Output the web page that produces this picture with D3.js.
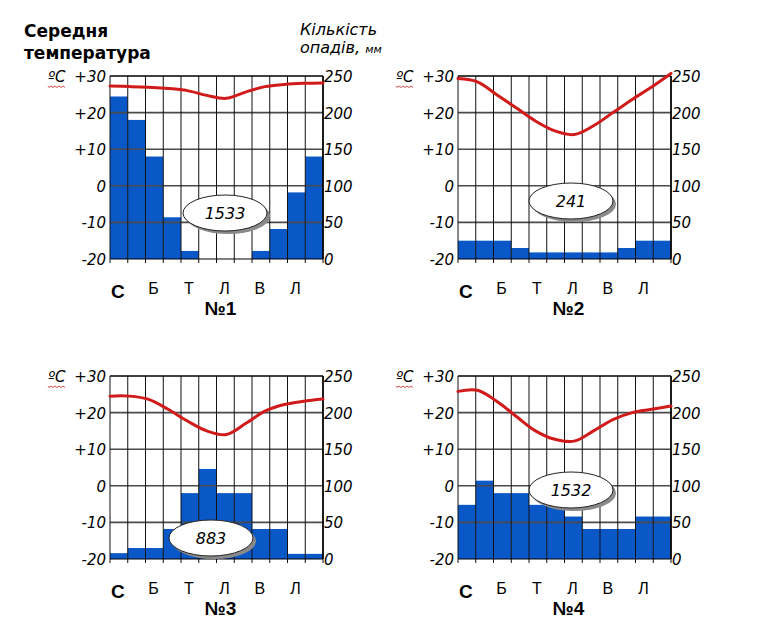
<!DOCTYPE html>
<html>
<head>
<meta charset="utf-8">
<script src="https://cdn.jsdelivr.net/npm/d3@7"></script>
<style>
	body { margin: 0; background: #fff; }
	svg { display: block; }
</style>
</head>
<body>
<div id="chart"></div>
<script>
// month letters under odd columns
var monthLabels = ['С', '', 'Б', '', 'Т', '', 'Л', '', 'В', '', 'Л', ''];
var tempTicks = [30, 20, 10, 0, -10, -20];
var tempTickLabels = ['+30', '+20', '+10', '0', '-10', '-20'];
var precipTicks = [250, 200, 150, 100, 50, 0];

var titles = ['№1', '№2', '№3', '№4'];
var totals = ['1533', '241', '883', '1532'];

var precip1 = [222, 190, 140, 57, 11, 0, 0, 0, 11, 41, 91, 140];
var precip2 = [25, 25, 25, 15, 9, 9, 9, 9, 9, 15, 25, 25];
var precip3 = [8, 15, 15, 41, 90, 123, 90, 90, 41, 41, 7, 7];
var precip4 = [74, 107, 90, 90, 74, 74, 58, 41, 41, 41, 58, 58];

var temp1 = [27.3, 27.1, 26.9, 26.6, 26.0, 24.7, 23.9, 25.6, 27.1, 27.7, 28.0, 28.1];
var temp2 = [29.3, 28.4, 24.9, 21.3, 17.7, 15.0, 14.0, 16.4, 20.0, 23.6, 27.0, 30.7];
var temp3 = [24.5, 24.5, 23.6, 20.9, 17.7, 15.0, 14.0, 17.0, 20.4, 22.2, 23.1, 23.7];
var temp4 = [25.8, 26.1, 23.1, 19.0, 15.0, 12.7, 12.2, 15.0, 18.1, 20.0, 20.9, 21.8];

var W = 780, H = 630;
var pw = 213, ph = 183;
var italic = 'DejaVu Sans';

var svg = d3.select('#chart').append('svg')
	.attr('width', W)
	.attr('height', H);

svg.append('rect').attr('width', W).attr('height', H).attr('fill', '#fff');

// header
svg.append('text').attr('x', 24).attr('y', 37)
	.attr('font-family', 'DejaVu Sans').attr('font-weight', 'bold').attr('font-size', 17)
	.text('Середня');
svg.append('text').attr('x', 24).attr('y', 59)
	.attr('font-family', 'DejaVu Sans').attr('font-weight', 'bold').attr('font-size', 17)
	.text('температура');
svg.append('text').attr('x', 300).attr('y', 35)
	.attr('font-family', italic).attr('font-style', 'italic').attr('font-size', 16)
	.text('Кількість');
var op = svg.append('text').attr('x', 300).attr('y', 53)
	.attr('font-family', italic).attr('font-style', 'italic').attr('font-size', 16);
op.append('tspan').text('опадів, ');
op.append('tspan').attr('font-size', 11).text('мм');

var monthIdx = d3.range(12);
var series = [
	{ x: 110, y: 76, precip: precip1, temp: temp1 },
	{ x: 458, y: 76, precip: precip2, temp: temp2 },
	{ x: 110, y: 376, precip: precip3, temp: temp3 },
	{ x: 458, y: 376, precip: precip4, temp: temp4 }
];

series.forEach(function (s, i) {
	drawPanel(s, i);
});

function drawPanel (s, i) {
	var g = svg.append('g').attr('transform', 'translate(' + s.x + ',' + s.y + ')');

	var xBand = d3.scaleBand().domain(monthIdx).range([0, pw]).padding(0);
	var xPt = d3.scalePoint().domain(monthIdx).range([0, pw]).padding(0);
	var yT = d3.scaleLinear().domain([-20, 30]).range([ph, 0]);
	var yP = d3.scaleLinear().domain([0, 250]).range([ph, 0]);

	// precipitation bars
	g.selectAll('rect.bar')
		.data(s.precip).enter()
		.append('rect')
		.attr('class', 'bar')
		.attr('x', function (d, j) { return xBand(j); })
		.attr('width', xBand.bandwidth())
		.attr('y', function (d) { return yP(d); })
		.attr('height', function (d) { return ph - yP(d); })
		.attr('fill', '#0a58c8');

	// horizontal grid
	g.selectAll('line.hg')
		.data(tempTicks.slice(1, 5)).enter()
		.append('line')
		.attr('x1', 0).attr('x2', pw)
		.attr('y1', function (d) { return yT(d); })
		.attr('y2', function (d) { return yT(d); })
		.attr('stroke', '#4a4a4a').attr('stroke-width', 1.6);

	// vertical grid with small ticks under the bottom
	g.selectAll('line.vg')
		.data(d3.range(13)).enter()
		.append('line')
		.attr('x1', function (d) { return d * xBand.step(); })
		.attr('x2', function (d) { return d * xBand.step(); })
		.attr('y1', 0).attr('y2', ph + 4)
		.attr('stroke', '#111').attr('stroke-width', 1);

	g.append('line').attr('x1', 0).attr('x2', pw).attr('y1', yT(30)).attr('y2', yT(30))
		.attr('stroke', '#000').attr('stroke-width', 1.4);
	g.append('line').attr('x1', 0).attr('x2', pw).attr('y1', ph).attr('y2', ph)
		.attr('stroke', '#000').attr('stroke-width', 1.2);
	g.append('line').attr('x1', pw).attr('x2', pw).attr('y1', 0).attr('y2', ph)
		.attr('stroke', '#000').attr('stroke-width', 1.6);

	// temperature line
	var line = d3.line()
		.x(function (d, j) { return xPt(j); })
		.y(function (d) { return yT(d); })
		.curve(d3.curveCatmullRom.alpha(0.5));
	g.append('path')
		.datum(s.temp)
		.attr('d', line)
		.attr('fill', 'none')
		.attr('stroke', '#d11a1a')
		.attr('stroke-width', 3)
		.attr('stroke-linecap', 'round');

	// left axis labels
	g.selectAll('text.lt')
		.data(tempTicks).enter()
		.append('text')
		.attr('x', -4)
		.attr('y', function (d) { return yT(d) + 6; })
		.attr('text-anchor', 'end')
		.attr('font-family', italic).attr('font-style', 'italic').attr('font-size', 15)
		.text(function (d, j) { return tempTickLabels[j]; });

	// right axis labels
	g.selectAll('text.rt')
		.data(precipTicks).enter()
		.append('text')
		.attr('x', pw + 1)
		.attr('y', function (d) { return yP(d) + 6; })
		.attr('font-family', italic).attr('font-style', 'italic').attr('font-size', 15)
		.text(function (d) { return d; });

	// ºC with the red squiggle
	g.append('text').attr('x', -62).attr('y', 6)
		.attr('font-family', italic).attr('font-style', 'italic').attr('font-size', 15)
		.text('ºC');
	var sq = d3.path();
	sq.moveTo(-62, 10);
	for (var k = 0; k < 9; k++) {
		sq.lineTo(-62 + k * 2 + 1, k % 2 ? 10 : 11.5);
	}
	g.append('path').attr('d', sq.toString())
		.attr('fill', 'none').attr('stroke', '#d02020').attr('stroke-width', 0.8);

	// month letters
	g.selectAll('text.m')
		.data(monthLabels).enter()
		.append('text')
		.attr('x', function (d, j) { return xBand(j) + xBand.bandwidth() / 2 - 1; })
		.attr('y', function (d, j) { return j === 0 ? ph + 39 : ph + 35; })
		.attr('text-anchor', 'middle')
		.attr('font-family', 'Liberation Sans')
		.attr('font-weight', function (d, j) { return j === 0 ? 'bold' : 'normal'; })
		.attr('font-size', function (d, j) { return j === 0 ? 19 : 16; })
		.text(function (d) { return d; });

	g.append('text')
		.attr('x', pw / 2 + 4).attr('y', ph + 56)
		.attr('text-anchor', 'middle')
		.attr('font-family', 'Liberation Sans').attr('font-weight', 'bold').attr('font-size', 19)
		.text(titles[i]);

	// total precipitation oval
	var ex = [115, 113, 101, 113][i], ey = [137, 125, 162, 114][i];
	g.append('ellipse').attr('cx', ex + 3).attr('cy', ey + 3).attr('rx', 42).attr('ry', 18)
		.attr('fill', '#8a8a8a');
	g.append('ellipse').attr('cx', ex).attr('cy', ey).attr('rx', 42).attr('ry', 18)
		.attr('fill', '#fff').attr('stroke', '#222').attr('stroke-width', 1);
	g.append('text').attr('x', ex).attr('y', ey + 6)
		.attr('text-anchor', 'middle')
		.attr('font-family', italic).attr('font-style', 'italic').attr('font-size', 16)
		.text(totals[i]);
}
</script>
</body>
</html>
